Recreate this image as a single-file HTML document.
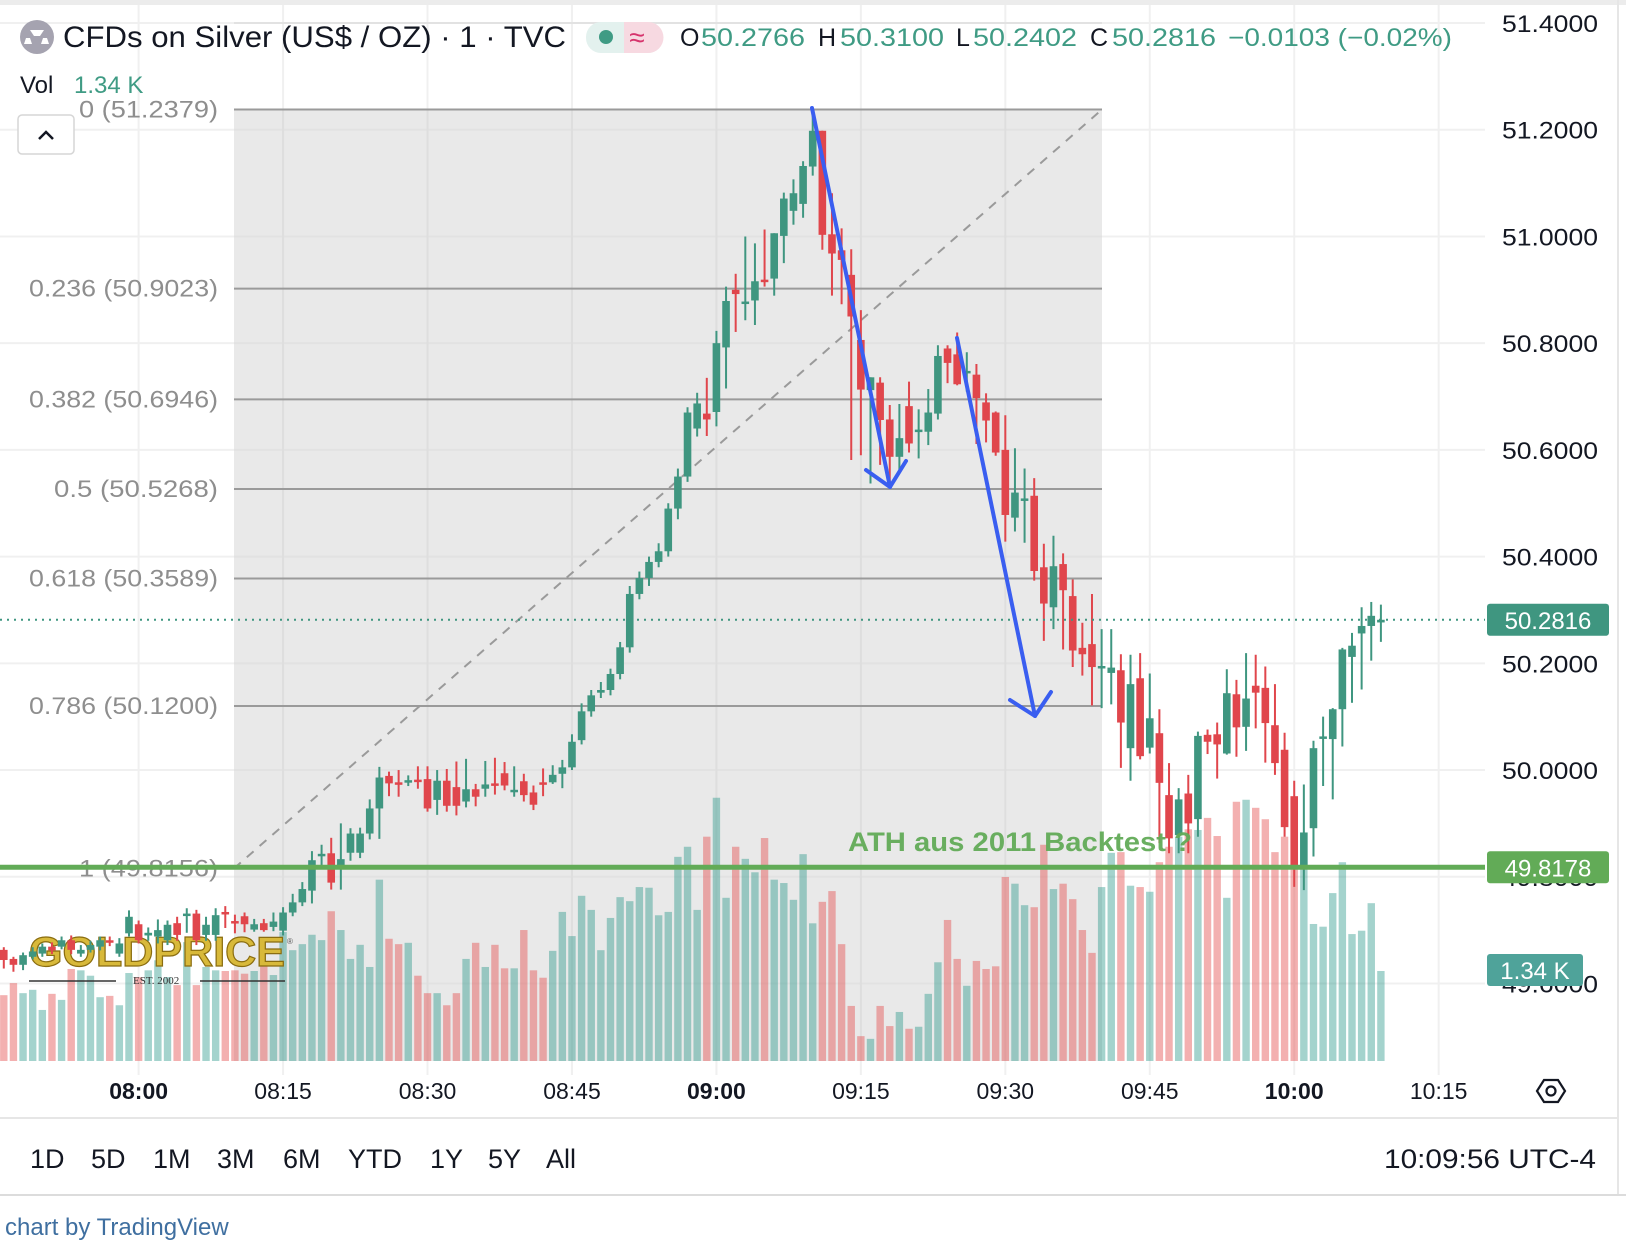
<!DOCTYPE html>
<html><head><meta charset="utf-8">
<style>
html,body{margin:0;padding:0;background:#fff;}
body{width:1626px;height:1252px;overflow:hidden;font-family:"Liberation Sans",sans-serif;}
svg{display:block;}
</style></head>
<body>
<svg id="chart" width="1626" height="1252" viewBox="0 0 1626 1252" xmlns="http://www.w3.org/2000/svg" font-family="Liberation Sans, sans-serif">
  <rect x="0" y="0" width="1626" height="1252" fill="#fff"/>
  <rect x="0" y="0" width="1626" height="5" fill="#ececec"/>
  <line x1="1618" y1="0" x2="1618" y2="1195" stroke="#e6e6e6" stroke-width="2"/>
  <g id="grid"></g>
  <g id="fib"></g>
  <g id="volume"></g>
  <g id="watermark">
    <text x="29" y="966" font-size="42" font-weight="bold" fill="#d8b93a" stroke="#8a6d10" stroke-width="1.2" textLength="256" lengthAdjust="spacingAndGlyphs">GOLDPRICE</text>
    <text x="287" y="944" font-size="8" fill="#555">®</text>
    <line x1="29" y1="981" x2="116" y2="981" stroke="#333" stroke-width="1.5"/>
    <text x="133" y="984" font-size="11" font-family="Liberation Serif, serif" fill="#333">EST. 2002</text>
    <line x1="200" y1="981" x2="285" y2="981" stroke="#333" stroke-width="1.5"/>
  </g>
  <g id="candles"></g>
  <g id="overlay"></g>
  <g id="axes"></g>
  <g id="header">
    <circle cx="37" cy="37" r="17" fill="#a5a3b0"/>
    <polygon points="30,31 44,31 40,37 34,37" fill="#fff" transform="translate(0,-1)"/>
    <polygon points="24,44 32,44 30,38 26,38" fill="#fff"/>
    <polygon points="41,44 49,44 47,38 43,38" fill="#fff"/>
    <text x="63" y="47" font-size="30" fill="#131722" textLength="503" lengthAdjust="spacingAndGlyphs">CFDs on Silver (US$ / OZ) · 1 · TVC</text>
    <rect x="586" y="22" width="77" height="31" rx="15" fill="#e3f1ee"/>
    <path d="M624,22 h24 a15,15 0 0 1 0,31 h-24 z" fill="#f7d9e1"/>
    <circle cx="606" cy="37" r="7" fill="#3f9b84"/>
    <text x="637" y="47" font-size="28" fill="#d6336c" text-anchor="middle">≈</text>
    <g font-size="25">
      <text x="680" y="46" fill="#131722">O</text><text x="701" y="46" fill="#3f9b84" textLength="104" lengthAdjust="spacingAndGlyphs">50.2766</text>
      <text x="818" y="46" fill="#131722">H</text><text x="840" y="46" fill="#3f9b84" textLength="104" lengthAdjust="spacingAndGlyphs">50.3100</text>
      <text x="956" y="46" fill="#131722">L</text><text x="973" y="46" fill="#3f9b84" textLength="104" lengthAdjust="spacingAndGlyphs">50.2402</text>
      <text x="1090" y="46" fill="#131722">C</text><text x="1112" y="46" fill="#3f9b84" textLength="104" lengthAdjust="spacingAndGlyphs">50.2816</text>
      <text x="1228" y="46" fill="#3f9b84" textLength="224" lengthAdjust="spacingAndGlyphs">−0.0103 (−0.02%)</text>
    </g>
    <text x="20" y="93" font-size="24" fill="#131722">Vol</text>
    <text x="74" y="93" font-size="24" fill="#3f9b84">1.34 K</text>
    <rect x="18" y="115" width="56" height="39" rx="4" fill="#fff" stroke="#d6d6d6" stroke-width="1.5"/>
    <path d="M39,139 L46,132 L53,139" fill="none" stroke="#131722" stroke-width="2.5"/>
  </g>
  <g id="footer">
    <line x1="0" y1="1118" x2="1618" y2="1118" stroke="#e6e6e6" stroke-width="2"/>
    <g font-size="27" fill="#131722">
      <text x="30" y="1168">1D</text>
      <text x="91" y="1168">5D</text>
      <text x="153" y="1168">1M</text>
      <text x="217" y="1168">3M</text>
      <text x="283" y="1168">6M</text>
      <text x="348" y="1168">YTD</text>
      <text x="430" y="1168">1Y</text>
      <text x="488" y="1168">5Y</text>
      <text x="546" y="1168">All</text>
      <text x="1596" y="1168" text-anchor="end" textLength="212" lengthAdjust="spacingAndGlyphs">10:09:56 UTC-4</text>
    </g>
    <line x1="0" y1="1195" x2="1626" y2="1195" stroke="#dcdcdc" stroke-width="2"/>
    <text x="5" y="1235" font-size="24" fill="#3f6fa0">chart by TradingView</text>
  </g>
</svg>
<script>
const opens=[49.663,49.646,49.635,49.650,49.656,49.669,49.669,49.681,49.656,49.663,49.669,49.681,49.656,49.694,49.711,49.690,49.688,49.681,49.713,49.729,49.731,49.691,49.691,49.734,49.717,49.726,49.701,49.713,49.706,49.699,49.733,49.752,49.774,49.842,49.844,49.821,49.845,49.845,49.881,49.928,49.989,49.977,49.979,49.982,49.983,49.944,49.980,49.968,49.941,49.964,49.965,49.975,49.994,49.962,49.979,49.958,49.977,49.977,49.993,50.005,50.056,50.110,50.145,50.150,50.180,50.230,50.330,50.360,50.390,50.410,50.490,50.550,50.640,50.668,50.671,50.792,50.900,50.877,50.880,50.919,50.921,51.001,51.048,51.061,51.131,51.198,51.004,50.974,50.928,50.806,50.712,50.726,50.657,50.587,50.682,50.636,50.634,50.668,50.790,50.779,50.746,50.741,50.689,50.670,50.600,50.473,50.508,50.514,50.380,50.305,50.386,50.326,50.229,50.236,50.193,50.182,50.187,50.041,50.172,50.042,50.069,49.953,49.878,49.956,49.908,50.066,50.067,50.031,50.142,50.081,50.158,50.154,50.084,50.038,49.951,49.819,49.891,50.062,50.058,50.114,50.212,50.256,50.270,50.2766];
const highs=[49.668,49.650,49.658,49.668,49.675,49.677,49.688,49.690,49.672,49.680,49.688,49.688,49.685,49.737,49.718,49.705,49.720,49.718,49.725,49.741,49.738,49.725,49.741,49.745,49.729,49.733,49.721,49.721,49.733,49.743,49.768,49.790,49.848,49.860,49.873,49.900,49.891,49.892,49.945,50.006,49.997,50.000,49.990,50.007,50.007,50.000,50.002,50.016,50.021,49.974,50.017,50.023,50.015,50.007,49.993,49.971,50.003,50.009,50.019,50.067,50.125,50.150,50.165,50.190,50.240,50.345,50.372,50.400,50.425,50.500,50.565,50.680,50.707,50.735,50.823,50.906,50.930,51.000,50.987,51.013,51.006,51.082,51.107,51.141,51.240,51.198,51.081,51.015,50.976,50.862,50.736,50.736,50.684,50.686,50.728,50.676,50.714,50.796,50.796,50.820,50.783,50.761,50.706,50.672,50.665,50.603,50.565,50.547,50.424,50.439,50.406,50.357,50.276,50.330,50.264,50.264,50.217,50.216,50.219,50.181,50.114,50.013,49.966,49.991,50.072,50.076,50.089,50.189,50.169,50.219,50.216,50.194,50.161,50.070,49.980,49.973,50.055,50.100,50.116,50.229,50.257,50.305,50.315,50.3100];
const lows=[49.628,49.622,49.625,49.645,49.650,49.655,49.664,49.655,49.650,49.658,49.662,49.670,49.650,49.688,49.675,49.680,49.675,49.672,49.680,49.695,49.672,49.680,49.680,49.704,49.694,49.696,49.697,49.697,49.698,49.690,49.726,49.745,49.750,49.820,49.776,49.776,49.830,49.835,49.870,49.871,49.951,49.950,49.970,49.965,49.922,49.916,49.922,49.915,49.930,49.932,49.950,49.954,49.962,49.950,49.941,49.925,49.951,49.974,49.966,50.000,50.048,50.100,50.135,50.140,50.170,50.220,50.320,50.345,50.380,50.400,50.470,50.540,50.625,50.626,50.644,50.715,50.821,50.843,50.834,50.906,50.889,50.950,51.022,51.035,51.114,50.975,50.889,50.873,50.581,50.590,50.537,50.572,50.531,50.562,50.595,50.584,50.609,50.657,50.725,50.721,50.709,50.611,50.614,50.589,50.428,50.447,50.426,50.355,50.242,50.264,50.226,50.193,50.177,50.121,50.116,50.123,50.004,49.980,50.020,50.031,49.863,49.844,49.844,49.844,49.875,50.030,49.984,50.029,50.025,50.036,50.078,50.014,49.991,49.875,49.781,49.775,49.838,49.970,49.945,50.044,50.126,50.151,50.205,50.2402];
const closes=[49.644,49.635,49.653,49.660,49.669,49.662,49.681,49.663,49.663,49.672,49.681,49.678,49.675,49.725,49.681,49.695,49.700,49.710,49.691,49.731,49.681,49.710,49.728,49.732,49.715,49.711,49.711,49.700,49.716,49.733,49.752,49.777,49.831,49.843,49.789,49.833,49.881,49.881,49.928,49.986,49.975,49.975,49.981,49.980,49.928,49.980,49.933,49.933,49.964,49.950,49.973,49.973,49.971,49.963,49.953,49.935,49.974,49.991,50.005,50.053,50.110,50.140,50.150,50.180,50.230,50.330,50.360,50.390,50.410,50.490,50.550,50.670,50.687,50.657,50.800,50.879,50.892,50.878,50.916,50.917,51.006,51.071,51.081,51.132,51.198,51.003,50.968,50.956,50.850,50.713,50.736,50.656,50.587,50.622,50.612,50.638,50.670,50.776,50.763,50.723,50.748,50.697,50.655,50.595,50.478,50.520,50.509,50.373,50.312,50.382,50.337,50.224,50.217,50.193,50.195,50.192,50.089,50.161,50.026,50.097,49.976,49.872,49.945,49.900,50.064,50.053,50.048,50.144,50.080,50.134,50.145,50.088,50.013,49.893,49.820,49.883,50.041,50.063,50.114,50.226,50.233,50.270,50.289,50.2816];
const volumes=[980,1160,1010,1060,760,1000,910,1370,1350,1270,950,970,830,1310,1250,1350,1500,1250,1130,1770,1130,1400,1350,1340,1350,1300,1340,1490,1280,1920,1650,1740,1880,1800,2230,1950,1520,1730,1400,2700,1820,1740,1760,1270,1010,1010,830,1010,1520,1760,1400,1730,1380,1380,1950,1350,1240,1640,2220,1860,2460,2250,1650,2130,2440,2380,2590,2580,2170,2220,3040,3190,2250,3340,3920,2430,3190,3010,2810,3320,2700,2650,2400,3080,2050,2370,2530,1740,820,370,330,820,520,730,480,510,1000,1470,2100,1520,1120,1490,1370,1410,2740,2640,2320,2290,3220,2560,2640,2410,1950,1610,2590,3100,3110,2610,2590,2520,2960,3190,3340,3450,3440,3620,3350,2430,3860,3890,3770,3600,3110,3340,3740,2960,2040,2000,2500,2960,1890,1940,2350,1340];
const timeLabels=["08:00","08:15","08:30","08:45","09:00","09:15","09:30","09:45","10:00","10:15"];
const timeIndex=[14,29,44,59,74,89,104,119,134,149];
const boldTimes=["08:00","09:00","10:00"];
const priceTicks=[51.4,51.2,51.0,50.8,50.6,50.4,50.2,50.0,49.8,49.6];
const fibRatios=[0,0.236,0.382,0.5,0.618,0.786,1];
const fibPrices=[51.2379,50.9023,50.6946,50.5268,50.3589,50.1200,49.8156];
const fibHigh=51.2379, fibLow=49.8156;
const lastPrice=50.2816, athPrice=49.8178;

const NS="http://www.w3.org/2000/svg";
const PANE_R=1485, VOL_BASE=1061;
function xs(i){return 3.8+9.63*i;}
function ys(p){return 23+(51.4-p)*533.6;}
function vh(v){return v/14.89;}
function mk(tag,attrs,parent){const e=document.createElementNS(NS,tag);for(const k in attrs)e.setAttribute(k,attrs[k]);parent.appendChild(e);return e;}

const grid=document.getElementById('grid');
priceTicks.forEach(p=>{const l=mk('line',{x1:0,x2:PANE_R,y1:ys(p),y2:ys(p),stroke:'#f0f0f0','stroke-width':2},grid);

});
timeIndex.forEach(i=>{const l=mk('line',{x1:xs(i),x2:xs(i),y1:5,y2:1075,stroke:'#f0f0f0','stroke-width':2},grid);

});

const fib=document.getElementById('fib');
const fx1=234,fx2=1102;
const shade=mk('rect',{x:fx1,y:ys(fibHigh),width:fx2-fx1,height:VOL_BASE-ys(fibHigh),fill:'#e9e9e9'},fib);


priceTicks.forEach(p=>{mk('line',{x1:fx1,x2:fx2,y1:ys(p),y2:ys(p),stroke:'#e2e2e2','stroke-width':2},fib);});
timeIndex.forEach(i=>{if(xs(i)>fx1&&xs(i)<fx2)mk('line',{x1:xs(i),x2:xs(i),y1:ys(fibHigh),y2:VOL_BASE,stroke:'#dedede','stroke-width':2},fib);});
const diag=mk('line',{x1:fx1,y1:ys(fibLow),x2:fx2,y2:ys(fibHigh),stroke:'#9a9a9a','stroke-width':2,'stroke-dasharray':'9,8'},fib);


fibRatios.forEach((r,k)=>{
  const p=fibPrices[k];const y=ys(p);
  const l=mk('line',{x1:fx1,x2:fx2,y1:y,y2:y,stroke:'#9a9a9a','stroke-width':2},fib);
  
  
  const s=r+' ('+p.toFixed(4)+')';
  const t=mk('text',{x:218,y:y+8,'font-size':24,fill:'#8e8e8e','text-anchor':'end',textLength:(12.6*s.length).toFixed(0),lengthAdjust:'spacingAndGlyphs'},fib);
  t.textContent=s;
  
  
});

const vg=document.getElementById('volume');
volumes.forEach((v,i)=>{const up=closes[i]>=opens[i];const h=vh(v);
  const r=mk('rect',{x:xs(i)-3.7,y:VOL_BASE-h,width:7.4,height:h,fill:up?'rgba(38,150,135,0.42)':'rgba(228,80,80,0.45)'},vg);
  
  });

const cg=document.getElementById('candles');
opens.forEach((o,i)=>{const c=closes[i];const up=c>=o;const col=up?'#3f9680':'#e0464c';const x=xs(i);
  const g=mk('g',{},cg);
  
  
  mk('line',{x1:x,x2:x,y1:ys(highs[i]),y2:ys(lows[i]),stroke:col,'stroke-width':2},g);
  const top=ys(Math.max(o,c)),bot=ys(Math.min(o,c));
  mk('rect',{x:x-3.8,y:top,width:7.6,height:Math.max(bot-top,2.5),fill:col},g);});

const ov=document.getElementById('overlay');
const dl=mk('line',{x1:0,x2:PANE_R,y1:ys(lastPrice),y2:ys(lastPrice),stroke:'#3f9680','stroke-width':2,'stroke-dasharray':'2,5'},ov);


const ath=mk('line',{x1:0,x2:PANE_R,y1:ys(athPrice),y2:ys(athPrice),stroke:'#62ab57','stroke-width':5},ov);


const at=mk('text',{x:848,y:851,'font-size':27,'font-weight':'bold',fill:'#62ab57','fill-opacity':0.95,textLength:344,lengthAdjust:'spacingAndGlyphs'},ov);
at.textContent='ATH aus 2011 Backtest ?';


function arrow(name,x1,y1,x2,y2,l1,l2){
  const g=mk('g',{fill:'none',stroke:'#3a5ef0','stroke-width':4,'stroke-linecap':'round','stroke-linejoin':'round'},ov);
  
  
  mk('polyline',{points:`${x1},${y1} ${x2},${y2}`},g);
  mk('polyline',{points:`${l1[0]},${l1[1]} ${x2},${y2} ${l2[0]},${l2[1]}`},g);}
arrow('arrow-drop-1',812,108,890,487,[866,470],[906,461]);
arrow('arrow-drop-2',957,338,1035,716,[1010,700],[1051,692]);

const ax=document.getElementById('axes');
priceTicks.forEach(p=>{const t=mk('text',{x:1598,y:ys(p)+9,'font-size':24,fill:'#131722','text-anchor':'end',textLength:96,lengthAdjust:'spacingAndGlyphs'},ax);
  t.textContent=p.toFixed(4);
  
  });
function badge(name,y,w,color,txt){
  const g=mk('g',{},ax);
  
  
  mk('rect',{x:1487,y:y-16,width:w,height:32,rx:3,fill:color},g);
  const t=mk('text',{x:1487+w/2,y:y+9,'font-size':24,fill:'#fff','text-anchor':'middle'},g);t.textContent=txt;}
badge('last-price-badge',ys(lastPrice),122,'#3f9680',lastPrice.toFixed(4));
badge('ath-price-badge',ys(athPrice),122,'#62ab57',athPrice.toFixed(4));
badge('volume-badge',970,96,'#4fa39a','1.34 K');
timeLabels.forEach((s,j)=>{const t=mk('text',{x:xs(timeIndex[j]),y:1099,'font-size':23,fill:'#131722','text-anchor':'middle','font-weight':boldTimes.includes(s)?'bold':'normal'},ax);
  t.textContent=s;
  
  });
const gear=mk('g',{fill:'none',stroke:'#131722','stroke-width':2.2},ax);


mk('polygon',{points:'1537,1091 1544,1080 1558,1080 1565,1091 1558,1102 1544,1102'},gear);
mk('circle',{cx:1551,cy:1091,r:4.5},gear);
</script>
</body></html>
